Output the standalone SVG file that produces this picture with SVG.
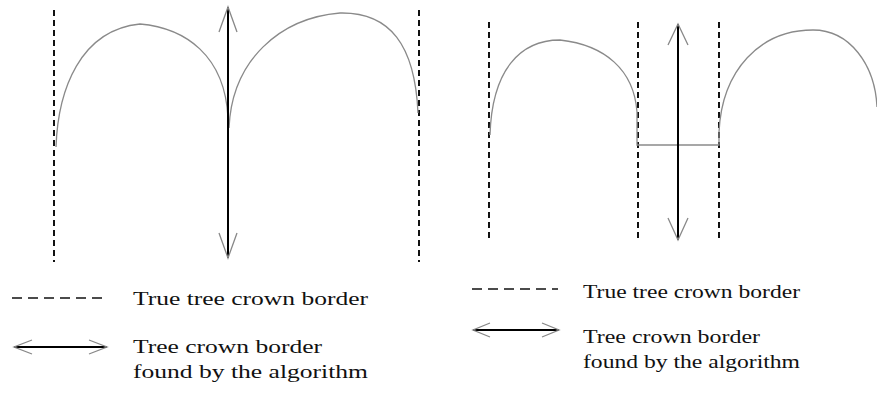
<svg xmlns="http://www.w3.org/2000/svg" width="877" height="394" viewBox="0 0 877 394">
<style>
.bg{fill:#ffffff}
.dash{stroke:#111;stroke-width:2;stroke-dasharray:6 4;fill:none}
.ldash{stroke:#111;stroke-width:1.6;stroke-dasharray:10 6;fill:none}
.crown{stroke:#8a8a8a;stroke-width:1.3;fill:none}
.arrow{stroke:#000;stroke-width:2;fill:none}
.head{stroke:#888;stroke-width:1.3;fill:none}
.lbl{font-family:"Liberation Serif","Times New Roman",serif;font-size:18px;fill:#111}
</style>
<rect class="bg" x="0" y="0" width="877" height="394"/>
<g id="figure-left">
  <line class="dash" x1="54" y1="10" x2="54" y2="262"/>
  <line class="dash" x1="419" y1="10" x2="419" y2="262"/>
  <path class="crown" d="M56,147 C58,90 80,30 140,24 C185,28 225,55 228,118"/>
  <path class="crown" d="M229,128 C232,60 280,18 340,13 C390,12 415,45 418,113"/>
  <line class="arrow" x1="228" y1="7" x2="228" y2="258"/>
  <polyline class="head" points="219,32 228,7 237,32"/>
  <polyline class="head" points="219,233 228,258 237,233"/>
</g>
<g id="figure-right">
  <line class="dash" x1="489" y1="22" x2="489" y2="240"/>
  <line class="dash" x1="638" y1="22" x2="638" y2="240"/>
  <line class="dash" x1="719" y1="22" x2="719" y2="240"/>
  <path class="crown" d="M490,135 C492,70 520,40 560,40 C605,45 634,70 637,112 L637,145 L719,145 L719,132 C722,70 760,30 813,30 C850,30 875,65 877,107"/>
  <line class="arrow" x1="678" y1="24" x2="678" y2="240"/>
  <polyline class="head" points="668,45 678,24 688,45"/>
  <polyline class="head" points="668,218 678,240 688,218"/>
</g>
<g id="legend-left">
  <line class="ldash" x1="12" y1="298" x2="107" y2="298"/>
  <text class="lbl" x="133" y="305" textLength="235" lengthAdjust="spacingAndGlyphs">True tree crown border</text>
  <line class="arrow" x1="14" y1="347" x2="107" y2="347"/>
  <polyline class="head" points="32,340 14,347 32,354"/>
  <polyline class="head" points="89,340 107,347 89,354"/>
  <text class="lbl" x="133" y="353" textLength="189" lengthAdjust="spacingAndGlyphs">Tree crown border</text>
  <text class="lbl" x="133" y="378" textLength="235" lengthAdjust="spacingAndGlyphs">found by the algorithm</text>
</g>
<g id="legend-right">
  <line class="ldash" x1="472" y1="289" x2="558" y2="289"/>
  <text class="lbl" x="583" y="298" textLength="217" lengthAdjust="spacingAndGlyphs">True tree crown border</text>
  <line class="arrow" x1="473" y1="330" x2="559" y2="330"/>
  <polyline class="head" points="490,323 473,330 490,337"/>
  <polyline class="head" points="542,323 559,330 542,337"/>
  <text class="lbl" x="583" y="343" textLength="177" lengthAdjust="spacingAndGlyphs">Tree crown border</text>
  <text class="lbl" x="583" y="368" textLength="217" lengthAdjust="spacingAndGlyphs">found by the algorithm</text>
</g>
</svg>
